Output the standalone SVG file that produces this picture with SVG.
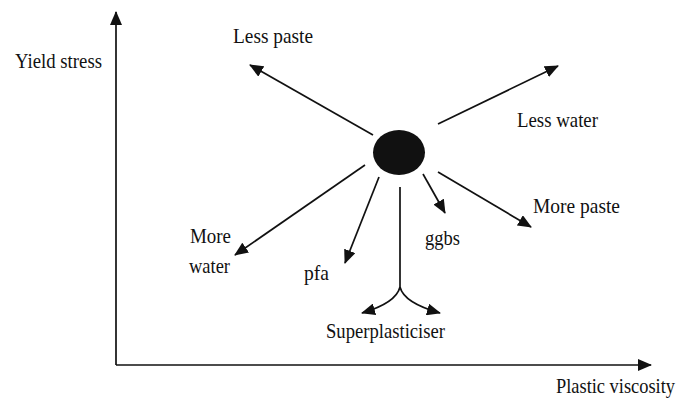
<svg xmlns="http://www.w3.org/2000/svg" width="680" height="403" viewBox="0 0 680 403">
<style>
.l{fill:none;stroke:#111;stroke-width:1.7}
.t{font-family:"Liberation Serif","Times New Roman",serif;font-size:21px;fill:#111}
</style>
<defs>
<marker id="a" markerUnits="userSpaceOnUse" markerWidth="14" markerHeight="12" viewBox="0 0 14 12" refX="13" refY="6" orient="auto">
<path d="M0,0 L14,6 L0,12 Z" fill="#111"/>
</marker>
</defs>
<rect width="680" height="403" fill="#fff"/>
<g id="axes">
<path class="l" d="M116,365 V12" marker-end="url(#a)"/>
<path class="l" d="M116,365 H651" marker-end="url(#a)"/>
</g>
<g id="connectors">
<path class="l" d="M373,135 L250,65" marker-end="url(#a)"/>
<path class="l" d="M438,124 L558,66" marker-end="url(#a)"/>
<path class="l" d="M438,172 L531,227" marker-end="url(#a)"/>
<path class="l" d="M423,174 L445,213" marker-end="url(#a)"/>
<path class="l" d="M379,177 L345,263" marker-end="url(#a)"/>
<path class="l" d="M365,165 L235,255" marker-end="url(#a)"/>
<path class="l" d="M400,187 V287"/>
<path class="l" d="M400,287 Q396,303 362,313" marker-end="url(#a)"/>
<path class="l" d="M400,287 Q404,303 440,313" marker-end="url(#a)"/>
</g>
<g id="centre"><ellipse cx="399" cy="152.5" rx="26" ry="22.5" fill="#111"/></g>
<g id="labels">
<text class="t" x="15" y="68" textLength="87" lengthAdjust="spacingAndGlyphs">Yield stress</text>
<text class="t" x="233" y="43" textLength="80" lengthAdjust="spacingAndGlyphs">Less paste</text>
<text class="t" x="517" y="127" textLength="81" lengthAdjust="spacingAndGlyphs">Less water</text>
<text class="t" x="533" y="213" textLength="87" lengthAdjust="spacingAndGlyphs">More paste</text>
<text class="t" x="425" y="245" textLength="35" lengthAdjust="spacingAndGlyphs">ggbs</text>
<text class="t" x="190" y="243" textLength="41" lengthAdjust="spacingAndGlyphs">More</text>
<text class="t" x="189" y="273" textLength="41" lengthAdjust="spacingAndGlyphs">water</text>
<text class="t" x="304" y="280" textLength="25" lengthAdjust="spacingAndGlyphs">pfa</text>
<text class="t" x="326" y="338" textLength="119" lengthAdjust="spacingAndGlyphs">Superplasticiser</text>
<text class="t" x="556" y="393" textLength="119" lengthAdjust="spacingAndGlyphs">Plastic viscosity</text>
</g>
</svg>
